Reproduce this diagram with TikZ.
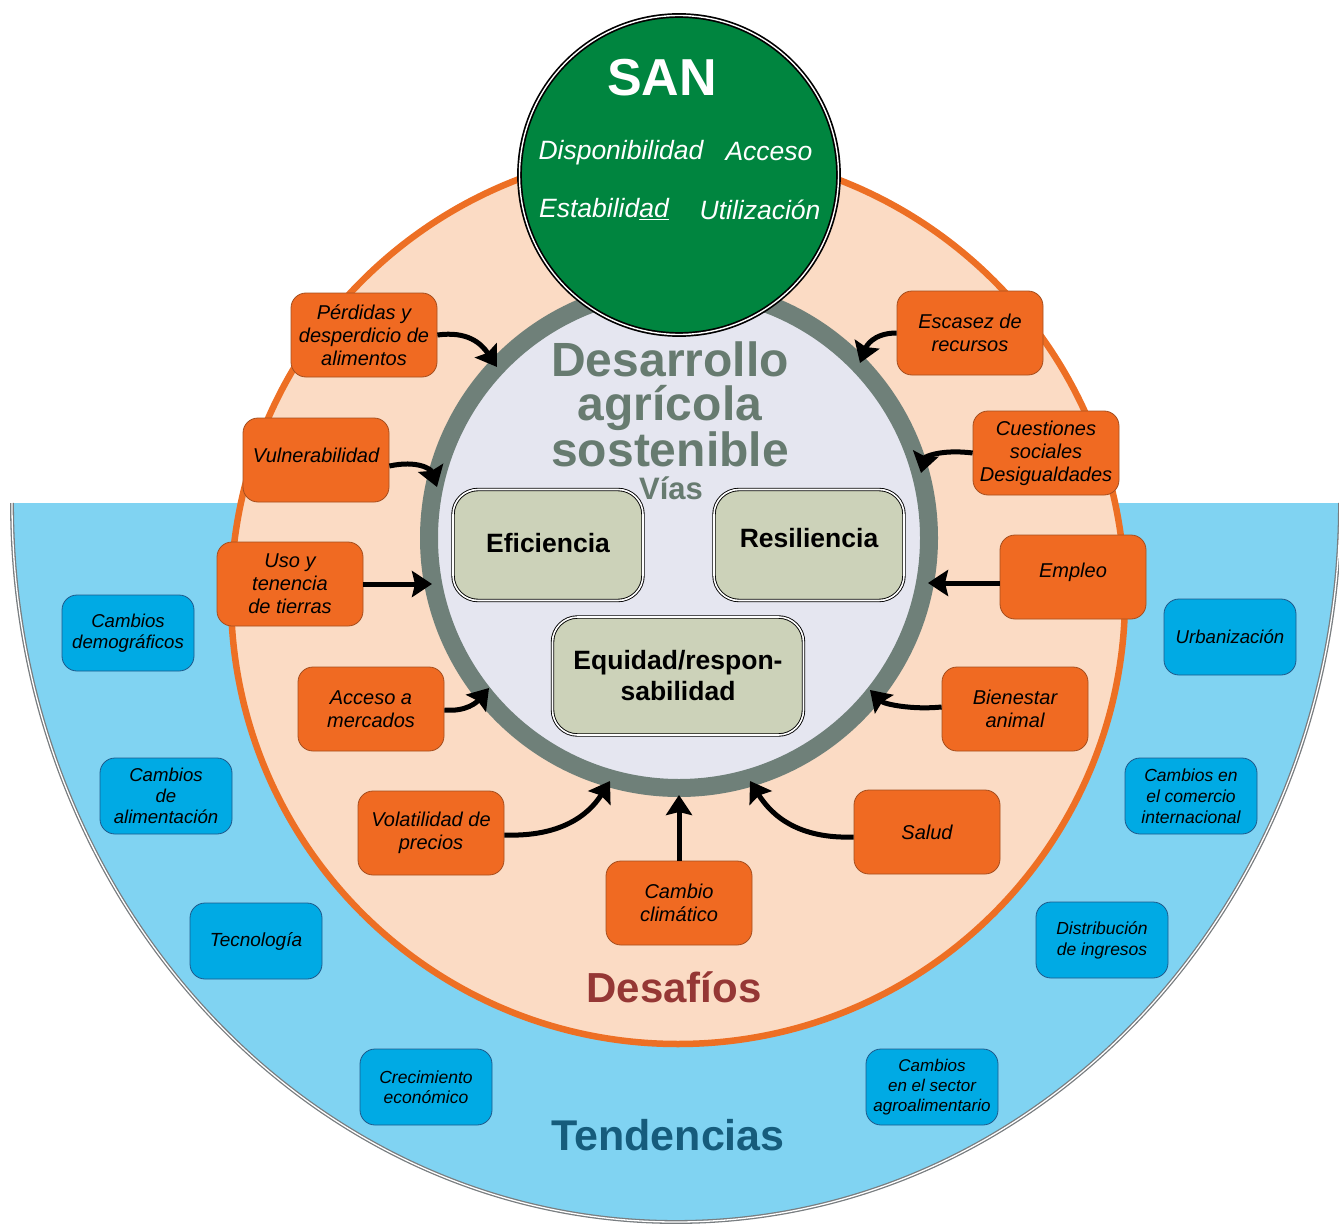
\documentclass[tikz,border=0pt]{standalone}
\usepackage{fontspec}
\setmainfont{Liberation Sans}
\usetikzlibrary{arrows.meta,calc}
\definecolor{bluebg}{RGB}{128,211,242}
\definecolor{bluebox}{RGB}{0,170,228}
\definecolor{blueline}{RGB}{30,90,140}
\definecolor{peach}{RGB}{251,219,196}
\definecolor{orring}{RGB}{237,111,36}
\definecolor{orbox}{RGB}{240,106,34}
\definecolor{orline}{RGB}{165,78,30}
\definecolor{ringgray}{RGB}{111,128,121}
\definecolor{lav}{RGB}{229,230,240}
\definecolor{sage}{RGB}{204,210,185}
\definecolor{sangreen}{RGB}{0,133,63}
\definecolor{dasgray}{RGB}{103,123,112}
\definecolor{desred}{RGB}{149,55,53}
\definecolor{tendblue}{RGB}{22,92,124}
\definecolor{edgegray}{RGB}{120,125,128}
\tikzset{
  obox/.style={draw=orline, line width=0.8pt, fill=orbox, rounded corners=15pt,
    minimum width=146pt, minimum height=84pt, align=center, inner sep=2pt,
    font=\fontsize{20}{23}\selectfont\itshape},
  bbox/.style={draw=blueline, line width=0.8pt, fill=bluebox, rounded corners=15pt,
    minimum width=132pt, minimum height=76pt, align=center, inner sep=2pt,
    font=\fontsize{18.6}{21}\selectfont\itshape},
  vbox/.style={draw=black, double=white, double distance=1.6pt, line width=0.9pt,
    fill=sage, rounded corners=25pt, align=center, inner sep=2pt,
    font=\fontsize{26.5}{31}\selectfont\bfseries},
  arr/.style={line width=5pt, -{Stealth[length=20pt,width=26pt,inset=3pt]}},
  santxt/.style={text=white, font=\fontsize{26.5}{30}\selectfont\itshape, inner sep=0pt}
}
\begin{document}
\begin{tikzpicture}[x=1pt,y=-1pt]
\useasboundingbox (0,0) rectangle (1339,1225);
% Tendencias region
\fill[bluebg] (12,503) arc[start angle=180,end angle=360,x radius=664pt,y radius=719pt] -- cycle;
\draw[edgegray, line width=1.3pt, double=white, double distance=1.3pt]
  (12,503) arc[start angle=180,end angle=360,x radius=664pt,y radius=719pt];
% Desafios circle
\draw[fill=peach, draw=orring, line width=6.5pt] (678,597) circle[radius=447pt];
% gray ring
\draw[fill=lav, draw=ringgray, line width=18pt] (679,538) circle[radius=250pt];
% SAN circle
\draw[fill=sangreen, draw=black, double=white, line width=1.7pt, double distance=1.4pt]
  (679,175) circle[radius=159.5pt];

% SAN texts
\node[text=white, font=\fontsize{52}{56}\selectfont\bfseries, inner sep=0pt] (san) at (662,78) {SAN};
\node[santxt] (disp) at (621,153) {Disponibilidad};
\node[santxt] (acce) at (769,152) {Acceso};
\node[santxt] (esta) at (604,209) {Estabilid\underline{ad}};
\node[santxt] (util) at (760,210) {Utilización};

% central texts
\node[text=dasgray, font=\fontsize{48}{44}\selectfont\bfseries, align=center, inner sep=0pt] (das) at (670,404) {Desarrollo\\agrícola\\sostenible};
\node[text=dasgray, font=\fontsize{31}{34}\selectfont\bfseries, inner sep=0pt] (vias) at (671,488) {Vías};
\node[vbox, minimum width=190pt, minimum height=111pt, text height=19pt, text depth=4pt] (efi) at (548,545) {Eficiencia};
\node[vbox, minimum width=190pt, minimum height=111pt, text height=19pt, text depth=14pt] (res) at (809,545) {Resiliencia};
\node[vbox, minimum width=251pt, minimum height=118pt] (equ) at (678,676) {Equidad/respon-\\sabilidad};

\node[text=desred, font=\fontsize{42}{46}\selectfont\bfseries, inner sep=0pt] (desa) at (674,987) {Desafíos};
\node[text=tendblue, font=\fontsize{43}{46}\selectfont\bfseries, inner sep=0pt] (tend) at (668,1135) {Tendencias};

% challenges
\node[obox] (perd) at (364,335) {Pérdidas y\\desperdicio de\\alimentos};
\node[obox, text height=15pt, text depth=10pt] (vul)  at (316,460) {Vulnerabilidad};
\node[obox] (uso)  at (290,584) {Uso y\\tenencia\\de tierras};
\node[obox] (acc)  at (371,709) {Acceso a\\mercados};
\node[obox] (vol)  at (431,833) {Volatilidad de\\precios};
\node[obox] (cc)   at (679,903) {Cambio\\climático};
\node[obox] (sal)  at (927,832) {Salud};
\node[obox] (bie)  at (1015,709) {Bienestar\\animal};
\node[obox, text height=15pt, text depth=14pt] (emp)  at (1073,577) {Empleo};
\node[obox] (cue)  at (1046,453) {Cuestiones\\sociales\\Desigualdades};
\node[obox] (esc)  at (970,333) {Escasez de\\recursos};

% trends
\node[bbox] (dem) at (128,633) {Cambios\\demográficos};
\node[bbox] (ali) at (166,796) {Cambios\\de\\alimentación};
\node[bbox, font=\fontsize{19}{21}\selectfont\itshape] (tec) at (256,941) {Tecnología};
\node[bbox, font=\fontsize{17.5}{20}\selectfont\itshape] (cre) at (426,1087) {Crecimiento\\económico};
\node[bbox, font=\fontsize{17}{20}\selectfont\itshape] (agr) at (932,1087) {Cambios\\en el sector\\agroalimentario};
\node[bbox, font=\fontsize{17.5}{21}\selectfont\itshape] (dis) at (1102,940) {Distribución\\de ingresos};
\node[bbox, font=\fontsize{17.5}{21}\selectfont\itshape] (com) at (1191,796) {Cambios en\\el comercio\\internacional};
\node[bbox] (urb) at (1230,637) {Urbanización};

% arrow ends
\coordinate (tperd) at (497,367);
\coordinate (tvul) at (437,487);
\coordinate (tuso) at (432,584);
\coordinate (tacc) at (489,688);
\coordinate (tvol) at (610,781);
\coordinate (tcc) at (679,795);
\coordinate (tsal) at (750,781);
\coordinate (tbie) at (870,690);
\coordinate (temp) at (928,583);
\coordinate (tcue) at (921,473);
\coordinate (tesc) at (860,363);

\draw[arr] (perd.east) .. controls +(30,-4) and +(-16,-24) .. (tperd);
\draw[arr] ($(vul.east)+(0,6)$) .. controls +(28,-6) and +(-6,-18) .. (tvul);
\draw[arr] (uso.east) -- (tuso);
\draw[arr] ($(acc.east)+(0,1)$) .. controls +(22,2) and +(-12,14) .. (tacc);
\draw[arr] ($(vol.east)+(0,2)$) .. controls +(55,2) and +(-22,35) .. (tvol);
\draw[arr] (cc.north) -- (tcc);
\draw[arr] ($(sal.west)+(0,5)$) .. controls +(-55,2) and +(22,35) .. (tsal);
\draw[arr] ($(bie.west)+(0,-2)$) .. controls +(-30,3) and +(14,14) .. (tbie);
\draw[arr] ($(emp.west)+(0,6)$) -- (temp);
\draw[arr] (cue.west) .. controls +(-32,-4) and +(4,-16) .. (tcue);
\draw[arr] (esc.west) .. controls +(-24,0) and +(6,-16) .. (tesc);
\end{tikzpicture}
\end{document}
